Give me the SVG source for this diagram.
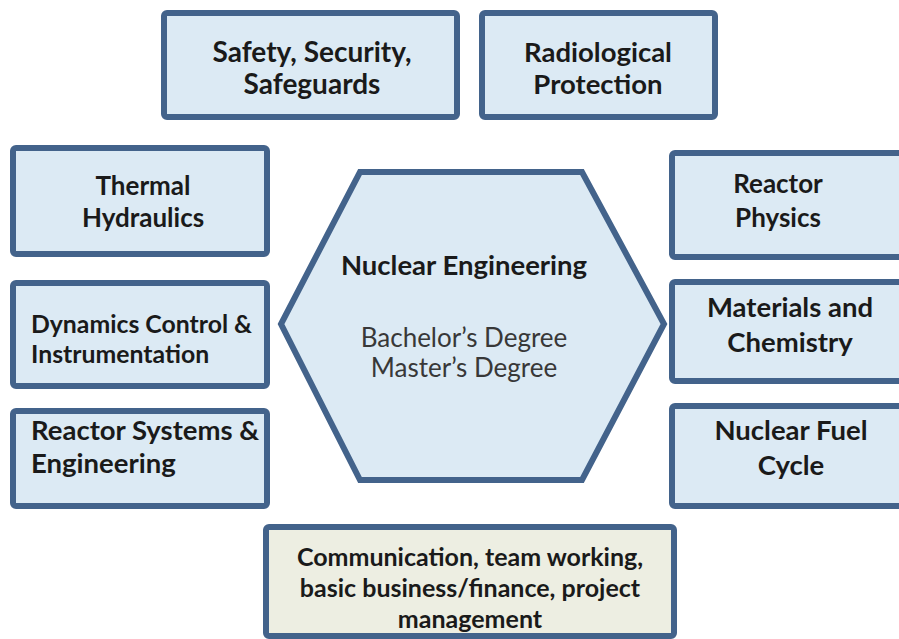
<svg xmlns="http://www.w3.org/2000/svg" width="899" height="639" viewBox="0 0 899 639">
<style>
.box{fill:#dceaf4;stroke:#43638b;stroke-width:6;}
.beige{fill:#edeee2;stroke:#43638b;stroke-width:6;}
.t{font-family:Lato,"Open Sans","Liberation Sans",sans-serif;font-weight:bold;font-size:26px;fill:#1a1a1a;}
.c{text-anchor:middle;}
.s{font-family:Lato,"Open Sans","Liberation Sans",sans-serif;font-size:26px;fill:#383838;text-anchor:middle;}
.f28{font-size:28px;}
.f27{font-size:27.5px;}
.f25{font-size:25px;}
.f24{font-size:24.8px;}
</style>
<rect width="899" height="639" fill="#ffffff"/>
<g id="connectors"></g>
<g id="safety">
<rect class="box" x="164" y="13" width="293" height="104" rx="3"/>
<text class="t c f28" x="312" y="62">Safety, Security,</text>
<text class="t c f28" x="312" y="94">Safeguards</text>
</g>
<g id="radiological">
<rect class="box" x="482" y="13" width="233" height="104" rx="3"/>
<text class="t c f27" x="598" y="62">Radiological</text>
<text class="t c f27" x="598" y="94">Protection</text>
</g>
<g id="thermal">
<rect class="box" x="13" y="148" width="254" height="106" rx="3"/>
<text class="t c" x="143" y="195">Thermal</text>
<text class="t c" x="143" y="227">Hydraulics</text>
</g>
<g id="dynamics">
<rect class="box" x="13" y="283" width="254" height="103" rx="3"/>
<text class="t f24" x="31" y="333">Dynamics Control &amp;</text>
<text class="t f24" x="31" y="363">Instrumentation</text>
</g>
<g id="systems">
<rect class="box" x="13" y="411" width="254" height="95" rx="3"/>
<text class="t f27" x="31" y="440">Reactor Systems &amp;</text>
<text class="t f27" x="31" y="473">Engineering</text>
</g>
<g id="physics">
<rect class="box" x="672" y="153" width="240" height="104" rx="3"/>
<text class="t c" x="778" y="193">Reactor</text>
<text class="t c" x="778" y="227">Physics</text>
</g>
<g id="materials">
<rect class="box" x="672" y="282" width="240" height="99" rx="3"/>
<text class="t c f27" x="790" y="317">Materials and</text>
<text class="t c f27" x="790" y="352">Chemistry</text>
</g>
<g id="fuel">
<rect class="box" x="672" y="406" width="240" height="100" rx="3"/>
<text class="t c f27" x="791" y="440">Nuclear Fuel</text>
<text class="t c f27" x="791" y="475">Cycle</text>
</g>
<g id="nuclear">
<polygon class="box" points="360,172 582,172 664,324 582,480 360,480 281,324"/>
<text class="t c f27" x="464" y="275">Nuclear Engineering</text>
<text class="s" x="464" y="347">Bachelor’s Degree</text>
<text class="s" x="464" y="377">Master’s Degree</text>
</g>
<g id="skills">
<rect class="beige" x="266" y="527" width="408" height="109" rx="3"/>
<text class="t c f25" x="470" y="566">Communication, team working,</text>
<text class="t c f25" x="470" y="597">basic business/finance, project</text>
<text class="t c f25" x="470" y="628">management</text>
</g>
</svg>
